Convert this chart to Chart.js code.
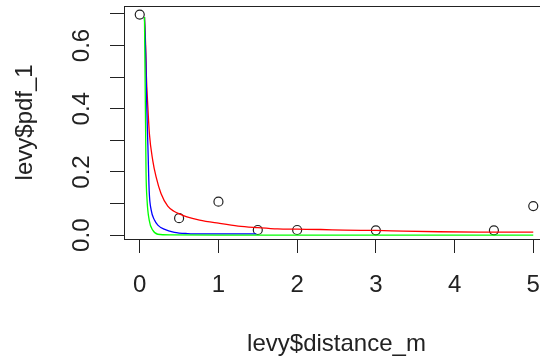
<!DOCTYPE html>
<html>
<head>
<meta charset="utf-8">
<script src="https://cdn.jsdelivr.net/npm/chart.js@4"></script>
<style>
  html, body { margin: 0; padding: 0; background: #fff; overflow: hidden; }
  #wrap { width: 560px; height: 362px; }
</style>
</head>
<body>
<div id="wrap"><canvas id="chart" width="560" height="362"></canvas></div>
<script>
// observed points
const distance = [0, 0.5, 1, 1.5, 2, 3, 4.5, 5];
const pdf1 = [0.698, 0.054, 0.106, 0.0165, 0.0165, 0.0153, 0.0153, 0.092];

// fitted curves
const redX = [0.06, 0.075, 0.085, 0.1, 0.123, 0.165, 0.207, 0.27, 0.356, 0.44, 0.52, 0.6, 0.76, 1.0, 1.25, 1.5, 1.75, 2.0, 2.3, 2.6, 3.0, 3.35, 3.8, 4.3, 5.0];
const redY = [0.69, 0.6, 0.5, 0.42, 0.32, 0.237, 0.185, 0.132, 0.092, 0.075, 0.066, 0.058, 0.048, 0.038, 0.029, 0.024, 0.02, 0.019, 0.018, 0.016, 0.015, 0.013, 0.011, 0.01, 0.0095];
const blueX = [0.06, 0.078, 0.09, 0.105, 0.12, 0.145, 0.187, 0.23, 0.31, 0.44, 0.61, 0.8, 1.0, 1.48];
const blueY = [0.69, 0.55, 0.4, 0.27, 0.14, 0.08, 0.048, 0.032, 0.019, 0.009, 0.005, 0.004, 0.004, 0.004];
const greenX = [0.06, 0.07, 0.08, 0.093, 0.12, 0.165, 0.23, 0.4, 1, 2, 3, 4, 5];
const greenY = [0.69, 0.45, 0.2, 0.111, 0.048, 0.016, 0.003, 0.001, 0.0005, 0.0005, 0.0005, 0.0005, 0.0005];

const xTicks = [0, 1, 2, 3, 4, 5];
const yTicks = [0, 0.1, 0.2, 0.3, 0.4, 0.5, 0.6, 0.7];
const yLabels = ["0.0", "", "0.2", "", "0.4", "", "0.6", ""];

const FONT = "'Liberation Sans', Arial, sans-serif";
const INK = "#222";

const toXY = (xs, ys) => xs.map((x, i) => ({ x: x, y: ys[i] }));

// draws the R style box and the rotated y tick labels
const rBox = {
  id: "rBox",
  afterDraw(chart) {
    const { ctx, chartArea: a, scales } = chart;
    ctx.save();
    ctx.strokeStyle = INK;
    ctx.lineWidth = 1;
    ctx.strokeRect(Math.round(a.left) + 0.5, Math.round(a.top) + 0.5,
      Math.round(a.right - a.left), Math.round(a.bottom - a.top));

    ctx.fillStyle = INK;
    ctx.font = "24px " + FONT;
    ctx.textAlign = "center";
    ctx.textBaseline = "middle";
    yTicks.forEach((v, i) => {
      if (!yLabels[i]) return;
      const py = scales.y.getPixelForValue(v);
      ctx.save();
      ctx.translate(82, py);
      ctx.rotate(-Math.PI / 2);
      ctx.fillText(yLabels[i], 0, 0);
      ctx.restore();
    });
    ctx.restore();
  }
};

new Chart(document.getElementById("chart"), {
  type: "scatter",
  data: {
    datasets: [
      {
        label: "pdf_1",
        data: toXY(distance, pdf1),
        pointStyle: "circle",
        pointRadius: 4.5,
        pointBorderWidth: 1.2,
        pointBorderColor: INK,
        pointBackgroundColor: "rgba(0,0,0,0)",
        showLine: false,
        order: 3
      },
      {
        label: "red",
        data: toXY(redX, redY),
        showLine: true,
        borderColor: "#ff0000",
        borderWidth: 1.3,
        pointRadius: 0,
        cubicInterpolationMode: "monotone",
        order: 2
      },
      {
        label: "blue",
        data: toXY(blueX, blueY),
        showLine: true,
        borderColor: "#0000ff",
        borderWidth: 1.3,
        pointRadius: 0,
        cubicInterpolationMode: "monotone",
        order: 1
      },
      {
        label: "green",
        data: toXY(greenX, greenY),
        showLine: true,
        borderColor: "#00ff00",
        borderWidth: 1.3,
        pointRadius: 0,
        cubicInterpolationMode: "monotone",
        order: 0
      }
    ]
  },
  options: {
    responsive: false,
    animation: false,
    devicePixelRatio: 1,
    layout: { padding: { top: 5, right: 11, left: 0, bottom: 0 } },
    plugins: {
      legend: { display: false },
      tooltip: { enabled: false }
    },
    scales: {
      x: {
        type: "linear",
        min: -0.2,
        max: 5.2,
        afterBuildTicks: (axis) => { axis.ticks = xTicks.map((v) => ({ value: v })); },
        afterFit: (axis) => { axis.height = 123; },
        border: { display: false },
        grid: { drawOnChartArea: false, tickLength: 14, tickColor: INK, tickWidth: 1 },
        ticks: {
          color: INK,
          font: { family: FONT, size: 24 },
          padding: 18,
          maxRotation: 0,
          callback: (v) => String(v)
        },
        title: {
          display: true,
          text: "levy$distance_m",
          color: INK,
          font: { family: FONT, size: 24 },
          padding: { top: 0, bottom: 3 }
        }
      },
      y: {
        type: "linear",
        min: -0.012,
        max: 0.726,
        afterBuildTicks: (axis) => { axis.ticks = yTicks.map((v) => ({ value: v })); },
        afterFit: (axis) => { axis.width = 124; axis.paddingTop = 0; axis.paddingBottom = 0; },
        border: { display: false },
        grid: { drawOnChartArea: false, tickLength: 14, tickColor: INK, tickWidth: 1 },
        ticks: {
          color: INK,
          font: { family: FONT, size: 1 },
          padding: 0,
          callback: () => ""
        },
        title: {
          display: true,
          text: "levy$pdf_1",
          color: INK,
          font: { family: FONT, size: 24 },
          padding: { top: 11, bottom: 0 }
        }
      }
    }
  },
  plugins: [rBox]
});
</script>
</body>
</html>
